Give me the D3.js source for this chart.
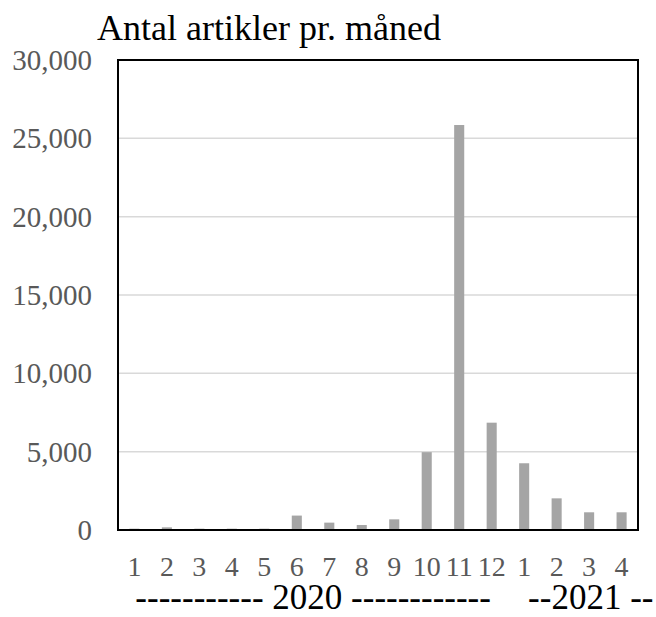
<!DOCTYPE html>
<html>
<head>
<meta charset="utf-8">
<script src="https://cdn.jsdelivr.net/npm/d3@7"></script>
<style>
  body { margin: 0; background: #fff; }
</style>
</head>
<body>
<script>
// month labels along the x axis (2020-01 .. 2021-04)
var months = ["1", "2", "3", "4", "5", "6", "7", "8", "9", "10", "11", "12", "1", "2", "3", "4"];
// articles per month
var counts = [85, 170, 85, 85, 85, 920, 470, 320, 680, 4970, 25850, 6850, 4260, 2020, 1130, 1130];
var yTicks = [0, 5000, 10000, 15000, 20000, 25000, 30000];
var title = "Antal artikler pr. måned";
var yearLabels = ["----------- 2020 ------------", "--2021 --"];

var W = 656, H = 617,
    plotLeft = 118, plotRight = 638, plotTop = 60, plotBottom = 530;

var svg = d3.select("body").append("svg").attr("width", W).attr("height", H)
  .attr("font-family", "'Liberation Serif', 'DejaVu Serif', serif");

var keys = d3.range(months.length);
var x = d3.scaleBand().domain(keys).range([plotLeft, plotRight]).paddingInner(0.69).paddingOuter(0.35);
var y = d3.scaleLinear().domain([0, 30000]).range([plotBottom, plotTop]);

/* Gridlines */
svg.append("g").selectAll("line").data(yTicks.filter(function (d) { return d > 0; })).enter()
  .append("line")
  .attr("x1", plotLeft).attr("x2", plotRight)
  .attr("y1", function (d) { return y(d); }).attr("y2", function (d) { return y(d); })
  .attr("stroke", "#d9d9d9").attr("stroke-width", 1.5);

/* Bars */
svg.append("g").selectAll("rect").data(counts).enter()
  .append("rect")
  .attr("x", function (d, i) { return x(i); })
  .attr("width", x.bandwidth())
  .attr("y", function (d) { return y(d); })
  .attr("height", function (d) { return y(0) - y(d); })
  .attr("fill", "#a5a5a5");

/* Baseline */
svg.append("line")
  .attr("x1", plotLeft).attr("x2", plotRight).attr("y1", y(0)).attr("y2", y(0))
  .attr("stroke", "#d9d9d9").attr("stroke-width", 1.5);

/* Frame */
svg.append("rect")
  .attr("x", plotLeft).attr("y", plotTop).attr("width", plotRight - plotLeft).attr("height", plotBottom - plotTop)
  .attr("fill", "none").attr("stroke", "#000").attr("stroke-width", 2);

/* Y axis labels */
var fmt = d3.format(",");
svg.append("g").selectAll("text").data(yTicks).enter()
  .append("text")
  .attr("x", 92)
  .attr("y", function (d) { return y(d); })
  .attr("dy", "0.35em")
  .attr("text-anchor", "end")
  .attr("font-size", 29)
  .attr("fill", "#595959")
  .text(fmt);

/* X axis labels */
svg.append("g").selectAll("text").data(months).enter()
  .append("text")
  .attr("x", function (d, i) { return x(i) + x.bandwidth() / 2; })
  .attr("y", 576)
  .attr("text-anchor", "middle")
  .attr("font-size", 28)
  .attr("fill", "#595959")
  .text(function (d) { return d; });

/* Year labels */
svg.append("text")
  .attr("x", x(0) + 6).attr("y", 609)
  .attr("font-size", 35).attr("fill", "#000")
  .style("white-space", "pre")
  .text(yearLabels[0]);
svg.append("text")
  .attr("x", x(12) + 9).attr("y", 609)
  .attr("font-size", 35).attr("fill", "#000")
  .style("white-space", "pre")
  .text(yearLabels[1]);

/* Title */
svg.append("text")
  .attr("x", 97).attr("y", 40)
  .attr("font-size", 36).attr("fill", "#000")
  .text(title);
</script>
</body>
</html>
